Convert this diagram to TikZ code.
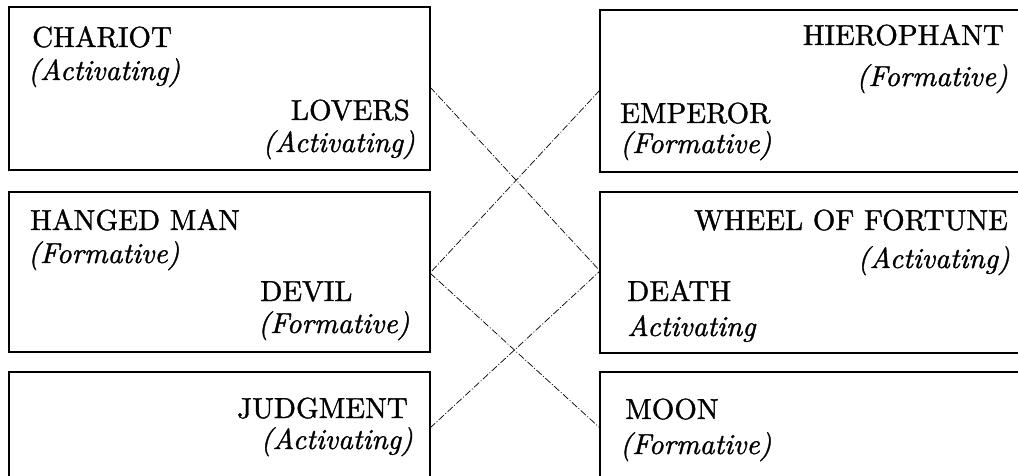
\documentclass[tikz,border=0pt]{standalone}
\usepackage{fontspec}
\newfontfamily\cardfont{lmroman10-regular.otf}[ItalicFont=lmroman10-italic.otf,FakeBold=1.2]
\begin{document}
\begin{tikzpicture}[x=1pt,y=-1pt,
  boxline/.style={line width=1.1pt,line cap=rect},
  link/.style={line width=0.7pt,dash pattern=on 7pt off 2pt on 1pt off 2pt},
  ttl/.style={inner sep=0pt,font=\cardfont\fontsize{29}{34}\selectfont},
  sub/.style={inner sep=0pt,font=\cardfont\fontsize{29}{34}\selectfont\itshape}]
\useasboundingbox (0,0) rectangle (1018,476);
% left boxes
\draw[boxline] (9,7) -- (430,7) -- (430,170) -- (9,170) -- cycle;
\draw[boxline] (9,192) -- (430,192) -- (430,352) -- (9,352) -- cycle;
\draw[boxline] (9,476) -- (9,372) -- (430,372) -- (430,476);
% right boxes
\draw[boxline] (1018,10) -- (600,10) -- (600,172) -- (1018,172);
\draw[boxline] (1018,192) -- (600,192) -- (600,353) -- (1018,353);
\draw[boxline] (1018,372) -- (600,372) -- (600,476);
% texts
\node[ttl,anchor=base west] (chariot) at (32,47) {CHARIOT};
\node[sub,anchor=base west] (chariotq) at (28,80) {(Activating)};
\node[ttl,anchor=base east] (lovers) at (410,120) {LOVERS};
\node[sub,anchor=base east] (loversq) at (415,152) {(Activating)};
\node[ttl,anchor=base west] (hanged) at (30,230) {HANGED MAN};
\node[sub,anchor=base west] (hangedq) at (28,263) {(Formative)};
\node[ttl,anchor=base west] (devil) at (260,301) {DEVIL};
\node[sub,anchor=base west] (devilq) at (258,333) {(Formative)};
\node[ttl,anchor=base east] (judg) at (408,418) {JUDGMENT};
\node[sub,anchor=base east] (judgq) at (413,449) {(Activating)};
\node[ttl,anchor=base east] (hiero) at (1004,45) {HIEROPHANT};
\node[sub,anchor=base east] (hieroq) at (1008,86) {(Formative)};
\node[ttl,anchor=base west] (emp) at (620,123) {EMPEROR};
\node[sub,anchor=base west] (empq) at (620,153) {(Formative)};
\node[ttl,anchor=base east] (wheel) at (1008,230) {WHEEL OF FORTUNE};
\node[sub,anchor=base east] (wheelq) at (1010,268) {(Activating)};
\node[ttl,anchor=base west] (death) at (627,301) {DEATH};
\node[sub,anchor=base west] (deathq) at (627,336) {Activating};
\node[ttl,anchor=base west] (moon) at (625,419) {MOON};
\node[sub,anchor=base west] (moonq) at (620,454) {(Formative)};
% connection points
\coordinate (pLovers) at (430,87);
\coordinate (pEmperor) at (600,90);
\coordinate (pDevil) at (430,273);
\coordinate (pDeath) at (600,271);
\coordinate (pJudg) at (430,428);
\coordinate (pMoon) at (600,428);
\draw[link] (pLovers) -- (pDeath);
\draw[link] (pEmperor) -- (pDevil);
\draw[link] (pDevil) -- (pMoon);
\draw[link] (pJudg) -- (pDeath);
\end{tikzpicture}
\end{document}
